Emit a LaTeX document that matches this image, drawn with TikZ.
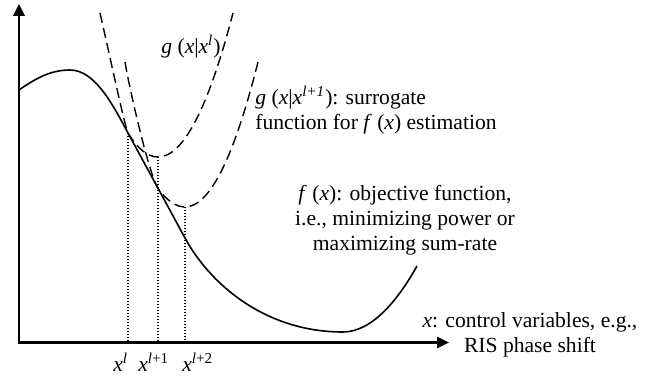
\documentclass[tikz,border=0pt]{standalone}
\usepackage{fontspec}
\setmainfont{Liberation Serif}
\usepackage{tikz}
\usetikzlibrary{positioning,arrows.meta}
\tikzset{
  ax/.style={line width=1.1pt, {Triangle[length=6pt, width=5.8pt]}-{Triangle[length=6pt, width=5.6pt]}},
  fcur/.style={line width=0.8pt},
  gcur/.style={line width=0.7pt, dash pattern=on 5pt off 2.7pt},
  proj/.style={line width=0.7pt, dash pattern=on 0.7pt off 0.8pt},
  lbl/.style={inner sep=0pt, align=center},
}
\newcommand{\vx}{\textit{x}}

\begin{document}
\begin{tikzpicture}[x=0.5pt, y=-0.5pt, font=\fontsize{10.8}{12.5}\selectfont]
\useasboundingbox (0,0) rectangle (660,379);
% axes
\coordinate (o) at (19,342.5);
\coordinate (ytip) at (19,4);
\coordinate (xtip) at (449,342.5);
\draw[ax] (ytip) -- (o) -- (xtip);
% tangent points and minima
\coordinate (t0) at (128,133);
\coordinate (t1) at (158,188.3);
\coordinate (t2) at (185,238);
\coordinate (m0) at (158,157);
\coordinate (m1) at (185,207);
% f(x)
\draw[fcur] (19,90) .. controls (35,79) and (50,70) .. (70,70)
  .. controls (95,70) and (113,105) .. (t0) -- (t2)
  .. controls (210,284) and (265,332) .. (343,332)
  .. controls (372,332) and (398,300) .. (417,266);
% surrogates
\draw[gcur] (100,13) .. controls (107,43) and (125,128) .. (t0)
  .. controls (138,149.3) and (148,157) .. (m0)
  .. controls (183,157) and (208,109) .. (233,13);
\draw[gcur] (125,62) .. controls (130,92) and (149.5,175.5) .. (t1)
  .. controls (166.6,200.7) and (176.4,207) .. (m1)
  .. controls (209.3,207) and (233.7,158.7) .. (258,62);
% projections
\draw[proj] (t0) -- (t0 |- o);
\draw[proj] (m0) -- (m0 |- o);
\draw[proj] (m1) -- (m1 |- o);
% labels
\node[lbl] (gl0) at (191,47) {\textit{g} (\vx|\vx\textsuperscript{\textit{l}})};
\node[lbl, anchor=west, align=left] (gl1) at (255,110) {\textit{g} (\vx|\vx\textsuperscript{\textit{l+1}}): surrogate\\function for \textit{f} (\vx) estimation};
\node[lbl] (fl) at (405,220) {\textit{f} (\vx): objective function,\\i.e., minimizing power or\\maximizing sum-rate};
\node[lbl] (xl) at (530,335) {\vx: control variables, e.g.,\\RIS phase shift};
\node[lbl, anchor=base west] (k0) at (113,371.5) {\vx\textsuperscript{\textit{l}}};
\node[lbl, anchor=base west] (k1) at (138,371.5) {\vx\textsuperscript{\textit{l}+1}};
\node[lbl, anchor=base west] (k2) at (182,371.5) {\vx\textsuperscript{\textit{l}+2}};
\end{tikzpicture}
\end{document}
